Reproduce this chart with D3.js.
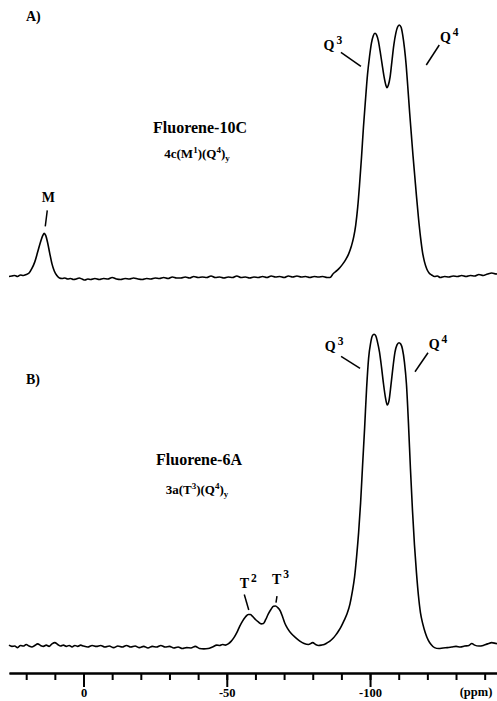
<!DOCTYPE html>
<html>
<head>
<meta charset="utf-8">
<script src="https://cdn.jsdelivr.net/npm/d3@7/dist/d3.min.js"></script>
<style>
  html, body { margin: 0; padding: 0; background: #fff; }
  svg { display: block; }
  text { font-family: "Liberation Serif", "Times New Roman", serif; font-weight: bold; fill: #000; }
</style>
</head>
<body>
<div id="chart"></div>
<script>
// chemical shift (ppm) and intensity (% of tallest peak)
const ppmA = [26, 25, 24, 23, 22, 21, 20, 19,
  18, 17, 16, 15, 14.2, 13.7, 13.2, 12.5, 11.8, 11, 10.2, 9.3, 8.4, 7.5, 6.5, 5.5, 4.5, 3.5, 2.5, 1.5, 0.5,
  -0.5, -1.5, -2.5, -4, -5.5, -7, -8.5, -10, -11.5, -13, -14.5, -16, -17.5, -19, -20.5, -22, -23.5, -25,
  -26.5, -28, -29.5, -31, -32.5, -34, -35.5, -37, -38.5, -40, -41.5, -43, -44.5, -46, -47.5, -49, -50.5,
  -52, -53.5, -55, -56.5, -58, -59.5, -61, -62.5, -64, -65.5, -67, -68.5, -70, -71.5, -73, -74.5, -76,
  -77.5, -79, -80.5, -82, -83.5, -85, -86,
  -87.2, -88.5, -89.5, -90.5, -91.5, -92.5, -93.5, -94.3, -95, -95.7, -96.3, -97, -97.7, -98.4, -99.1,
  -99.8, -100.5, -101.1, -101.7, -102.3, -102.9, -103.5, -104.2, -104.9, -105.5, -105.9, -106.4, -107,
  -107.6, -108.3, -109, -109.6, -110.2, -110.8, -111.4, -112, -112.6, -113.2, -113.8, -114.4, -115,
  -115.6, -116.2, -116.9, -117.6, -118.3, -119, -119.8, -120.6, -121.5, -122.5, -123.5, -124.5, -126,
  -127.5, -129, -130.5, -132, -133.5, -135, -136.5, -138, -139.5, -141, -142.5, -144, -145];
const intA = [0.2, 0.4, 0.6, 0.2, 0.8, 0.6, 1.0, 1.6,
  3.4, 6.0, 9.9, 13.9, 16.5, 17.3, 16.5, 13.5, 9.5, 5.2, 2.4, 0.6, -0.4, -0.6, -0.4, -0.8, -0.6, -1.0, -0.8, -0.4, -0.8,
  -1.2, -0.8, -1.0, -0.6, -1.0, -0.6, -0.8, -0.2, -0.8, -1.0, -0.6, -0.8, -0.4, -0.8, -1.0, -0.6, -0.8, -0.4,
  -0.6, -0.2, -0.6, 0.0, -0.4, -0.4, 0.0, -0.4, 0.2, -0.2, 0.0, -0.2, 0.4, -0.2, 0.0, -0.4, 0.0,
  -0.2, 0.4, -0.2, 0.0, -0.4, 0.0, -0.2, 0.2, -0.2, 0.4, 0.0, 0.2, -0.2, 0.4, 0.0, 0.4, 0.0,
  0.2, -0.2, 0.2, 0.0, 0.2, -0.2, -0.2,
  1.4, 2.6, 3.8, 5.2, 6.9, 9.1, 12.3, 15.9, 20.6, 27.8, 36.1, 47.2, 59.5, 70.2, 80.2,
  87.3, 92.9, 95.6, 96.7, 96.0, 93.7, 89.7, 84.5, 79.4, 76.2, 75.1, 76.2, 79.4,
  85.3, 92.1, 96.8, 99.2, 100, 99.2, 96.0, 90.9, 84.1, 75.0, 65.5, 56.7, 48.0,
  40.1, 32.1, 23.4, 15.9, 9.9, 6.0, 3.2, 1.6, 0.8, 0.2, 0.4, -0.2, 0.2,
  0.0, 0.4, 0.2, 0.6, 0.2, 0.6, 0.4, 1.0, 0.6, 1.2, 1.6, 1.2, 1.4];

const ppmB = [26, 25, 24, 23, 22, 21, 20, 19, 18, 17, 16, 15, 14, 13, 12, 11, 10, 9, 8, 7, 6, 5, 4, 3, 2, 1, 0,
  -1.5, -3, -4.5, -6, -7.5, -9, -10.5, -12, -13.5, -15, -16.5, -18, -19.5, -21, -22.5, -24, -25.5, -27,
  -28.5, -30, -31.5, -33, -34.5, -36, -37.5, -39, -40.5, -42, -43.5, -45, -46.5, -47.5, -48.5, -49.5,
  -50.5, -51.5, -52.5, -53.5, -54.5, -55.5, -56.5, -57.5, -58.2, -59, -60, -61, -62, -62.8, -63.6, -64.5,
  -65.4, -66.3, -67, -67.8, -68.7, -69.5, -70.3, -71.3, -72.5, -74, -75.5, -77, -78.5, -80, -81, -82,
  -83, -84, -85, -86, -87, -88, -89, -90, -91, -92, -93, -93.8, -94.6, -95.3, -96, -96.7, -97.4, -98.1,
  -98.8, -99.5, -100.2, -100.8, -101.4, -102, -102.6, -103.3, -104, -104.7, -105.4, -106, -106.6, -107.3,
  -108, -108.7, -109.4, -110.1, -110.7, -111.3, -112, -112.7, -113.4, -114.1, -114.8, -115.5, -116.2,
  -116.9, -117.6, -118.4, -119.3, -120.3, -121.3, -122.5, -124, -125.5, -127, -128.5, -130, -131.5, -133,
  -134.5, -135.5, -136.5, -138, -139.5, -141, -142.5, -144, -145];
const intB = [0.6, 0.2, 0.3, -0.2, 0.5, 0.3, 0.8, 0.3, 0.0, 0.5, 1.0, 0.5, 0.2, 0.6, 0.2, 1.0, 1.4, 0.8, 0.3, 0.6, 0.2, 0.5, 0.0, 0.5, 0.2, 0.6, 0.3,
  0.0, 0.5, 0.2, 0.5, 0.0, 0.3, -0.2, 0.3, 0.0, 0.5, 0.0, 0.3, -0.2, 0.2, -0.3, 0.2, 0.0, 0.5,
  0.0, 0.2, -0.3, 0.0, -0.5, -0.2, -0.3, 0.2, -0.5, -0.6, -0.5, 0.0, 0.6, 0.5, 0.8, 0.6,
  1.0, 1.8, 3.0, 4.6, 6.6, 8.3, 9.6, 10.4, 10.4, 9.8, 8.8, 8.0, 7.4, 7.5, 8.8, 10.6,
  12.0, 13.0, 13.1, 12.6, 11.5, 9.6, 7.5, 5.8, 4.3, 3.0, 1.9, 1.1, 0.8, 1.4, 0.8, 0.5,
  0.6, 0.8, 1.3, 1.9, 2.7, 3.8, 5.1, 6.7, 8.6, 10.7, 13.8, 17.6, 22.4, 28.8, 36.5, 46.1, 58.2, 70.0,
  82.8, 92.4, 97.2, 99.5, 100, 99.5, 97.5, 94.3, 89.5, 84.1, 79.6, 77.4, 78.7, 83.8,
  89.5, 94.3, 96.6, 97.3, 96.9, 95.3, 91.1, 84.1, 71.6, 56.9, 43.8, 32.6, 23.7,
  16.3, 10.9, 7.4, 4.5, 2.2, 0.8, -0.2, -0.5, -0.3, -0.2, 0.0, 0.2, 0.0, 0.3,
  0.5, 1.1, 0.6, 0.3, 0.5, 1.0, 1.4, 1.1, 1.0];

const minorTicks = [20, 10, 0, -10, -20, -30, -40, -50, -60, -70, -80, -90, -100, -110, -120, -130, -140];
const majorTicks = [0, -50, -100];
const panelNames = ['A)', 'B)'];
const sampleNames = ['Fluorene-10C', 'Fluorene-6A'];

const width = 497
    , height = 701
    , axisY = 673
    ;

const svg = d3.select('#chart').append('svg')
  .attr('width', width)
  .attr('height', height);

const x = d3.scaleLinear().domain([26, -145]).range([9, 499]);
const yA = d3.scaleLinear().domain([0, 100]).range([277, 25]);
const yB = d3.scaleLinear().domain([0, 100]).range([647, 334.3]);

function trace(ppm, vals, y) {
  const pts = ppm.map((p, i) => [p, vals[i]]);
  const line = d3.line()
    .x(d => x(d[0]))
    .y(d => y(d[1]))
    .curve(d3.curveMonotoneX);
  svg.append('path')
    .datum(pts)
    .attr('d', line)
    .attr('fill', 'none')
    .attr('stroke', '#000')
    .attr('stroke-width', 1.6)
    .attr('stroke-linejoin', 'round');
}

trace(ppmA, intA, yA);
trace(ppmB, intB, yB);

// bottom ppm axis: minor ticks every 10, long labelled ticks every 50
const axisMinor = d3.axisBottom(x)
  .tickValues(minorTicks)
  .tickSize(7)
  .tickSizeOuter(0)
  .tickFormat('');
const axisMajor = d3.axisBottom(x)
  .tickValues(majorTicks)
  .tickSize(14)
  .tickSizeOuter(0)
  .tickPadding(1)
  .tickFormat(d => d === 0 ? '0' : String(d));

const gMinor = svg.append('g').attr('transform', `translate(0,${axisY})`).call(axisMinor);
const gMajor = svg.append('g').attr('transform', `translate(0,${axisY})`).call(axisMajor);
[gMinor, gMajor].forEach(g => {
  g.select('.domain').attr('stroke-width', 2.2);
  g.selectAll('.tick line').attr('stroke-width', 2);
});
gMajor.selectAll('.tick text')
  .attr('font-size', 12.5)
  .attr('font-family', '"Liberation Serif", serif')
  .attr('font-weight', 'bold');

svg.append('text')
  .attr('x', 476)
  .attr('y', axisY + 23)
  .attr('text-anchor', 'middle')
  .attr('font-size', 12.5)
  .text('(ppm)');

// panel letters and sample names
svg.append('text').attr('x', 26).attr('y', 21).attr('font-size', 14).text(panelNames[0]);
svg.append('text').attr('x', 26).attr('y', 384).attr('font-size', 14).text(panelNames[1]);

svg.append('text').attr('x', 200).attr('y', 133)
  .attr('text-anchor', 'middle').attr('font-size', 16).text(sampleNames[0]);
svg.append('text').attr('x', 199).attr('y', 465)
  .attr('text-anchor', 'middle').attr('font-size', 16).text(sampleNames[1]);

function formula(cx, cy, parts) {
  const t = svg.append('text')
    .attr('x', cx)
    .attr('y', cy)
    .attr('text-anchor', 'middle')
    .attr('font-size', 13);
  let shift = 0;
  parts.forEach(([s, kind]) => {
    const target = kind === 'sup' ? -5 : kind === 'sub' ? 3 : 0;
    t.append('tspan')
      .attr('dy', target - shift)
      .attr('font-size', kind ? 9 : 13)
      .text(s);
    shift = target;
  });
}

formula(197, 158, [['4c(M'], ['1', 'sup'], [')(Q'], ['4', 'sup'], [')'], ['y', 'sub']]);
formula(197, 494, [['3a(T'], ['3', 'sup'], [')(Q'], ['4', 'sup'], [')'], ['y', 'sub']]);

// peak tags: letter + superscript, with a short leader line
function tag(px, py, base, sup, dx, dy, l) {
  const t = svg.append('text')
    .attr('x', px + dx)
    .attr('y', py + dy)
    .attr('text-anchor', 'middle')
    .attr('font-size', 14);
  t.append('tspan').text(base);
  if (sup) {
    t.append('tspan').attr('dx', 2).attr('dy', -6).attr('font-size', 11.5).text(sup);
  }
  svg.append('line')
    .attr('x1', px + l[0]).attr('y1', py + l[1])
    .attr('x2', px + l[2]).attr('y2', py + l[3])
    .attr('stroke', '#000')
    .attr('stroke-width', 1.5);
}

tag(x(13.7), yA(17.3), 'M', '', 4, -31, [3, -23, 1, -7]);
tag(x(-101.7), yA(96.7), 'Q', '3', -42, 17, [-34, 19, -14, 33]);
tag(x(-110.2), yA(100), 'Q', '4', 50, 17, [40, 20, 27, 40]);

tag(x(-101.4), yB(100), 'Q', '3', -40, 17, [-33, 22, -14, 34]);
tag(x(-110.1), yB(97.3), 'Q', '4', 39, 6, [29, 10, 16, 29]);
tag(x(-58.2), yB(10.4), 'T', '2', -2, -26, [-6, -20, -1.5, -4.5]);
tag(x(-67), yB(13.1), 'T', '3', 5, -22, [1.5, -10, 0.5, -3.5]);
</script>
</body>
</html>
